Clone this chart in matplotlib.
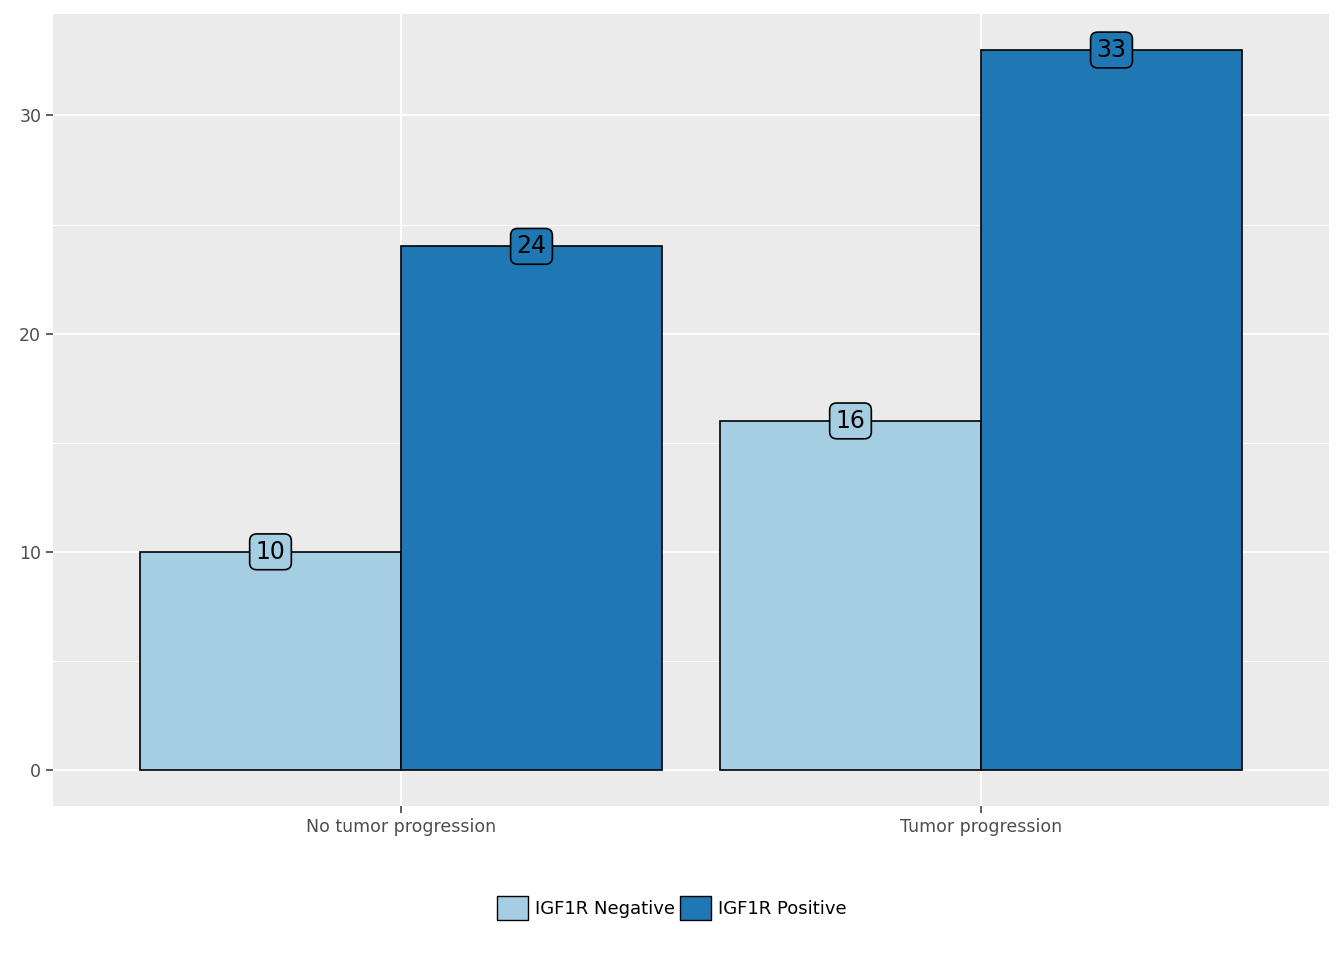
import matplotlib.pyplot as plt
from matplotlib.patches import Patch

categories = ["No tumor progression", "Tumor progression"]
groups = ["IGF1R Negative", "IGF1R Positive"]
values = {"IGF1R Negative": [10, 16], "IGF1R Positive": [24, 33]}
colors = {"IGF1R Negative": "#A6CEE3", "IGF1R Positive": "#1F78B4"}

fig = plt.figure(figsize=(13.44, 9.6), dpi=100)
ax = fig.add_axes([53/1344, 1-806/960, (1329-53)/1344, (806-14)/960])
ax.set_facecolor("#EBEBEB")
for s in ax.spines.values():
    s.set_visible(False)

for y in [5, 15, 25, 35]:
    ax.axhline(y, color="white", lw=0.7, zorder=0)
for y in [0, 10, 20, 30]:
    ax.axhline(y, color="white", lw=1.4, zorder=0)
for x in [1, 2]:
    ax.axvline(x, color="white", lw=1.4, zorder=0)

w = 0.45
for gi, g in enumerate(groups):
    for ci, v in enumerate(values[g]):
        x = ci + 1 + (gi - 0.5) * w
        ax.bar(x, v, width=w, color=colors[g], edgecolor="black", lw=1.2, zorder=2)
        ax.text(x, v, str(v), ha="center", va="center", fontsize=17, zorder=3,
                bbox=dict(boxstyle="round,pad=0.25,rounding_size=0.3",
                          fc=colors[g], ec="black", lw=1.2))

ax.set_xlim(0.4, 2.6)
ax.set_ylim(-1.65, 34.65)
ax.set_xticks([1, 2])
ax.set_xticklabels(categories)
ax.set_yticks([0, 10, 20, 30])
ax.tick_params(colors="#333333", labelcolor="#4D4D4D", labelsize=12.5, length=5, width=1.1)

handles = [Patch(facecolor=colors[g], edgecolor="black", label=g) for g in groups]
fig.legend(handles=handles, loc="center", bbox_to_anchor=(0.5, 1-908/960), ncol=2,
           frameon=False, fontsize=13, handlelength=1.7, handleheight=1.7,
           handletextpad=0.4, columnspacing=0.3)

fig.savefig("out.png", dpi=100)
